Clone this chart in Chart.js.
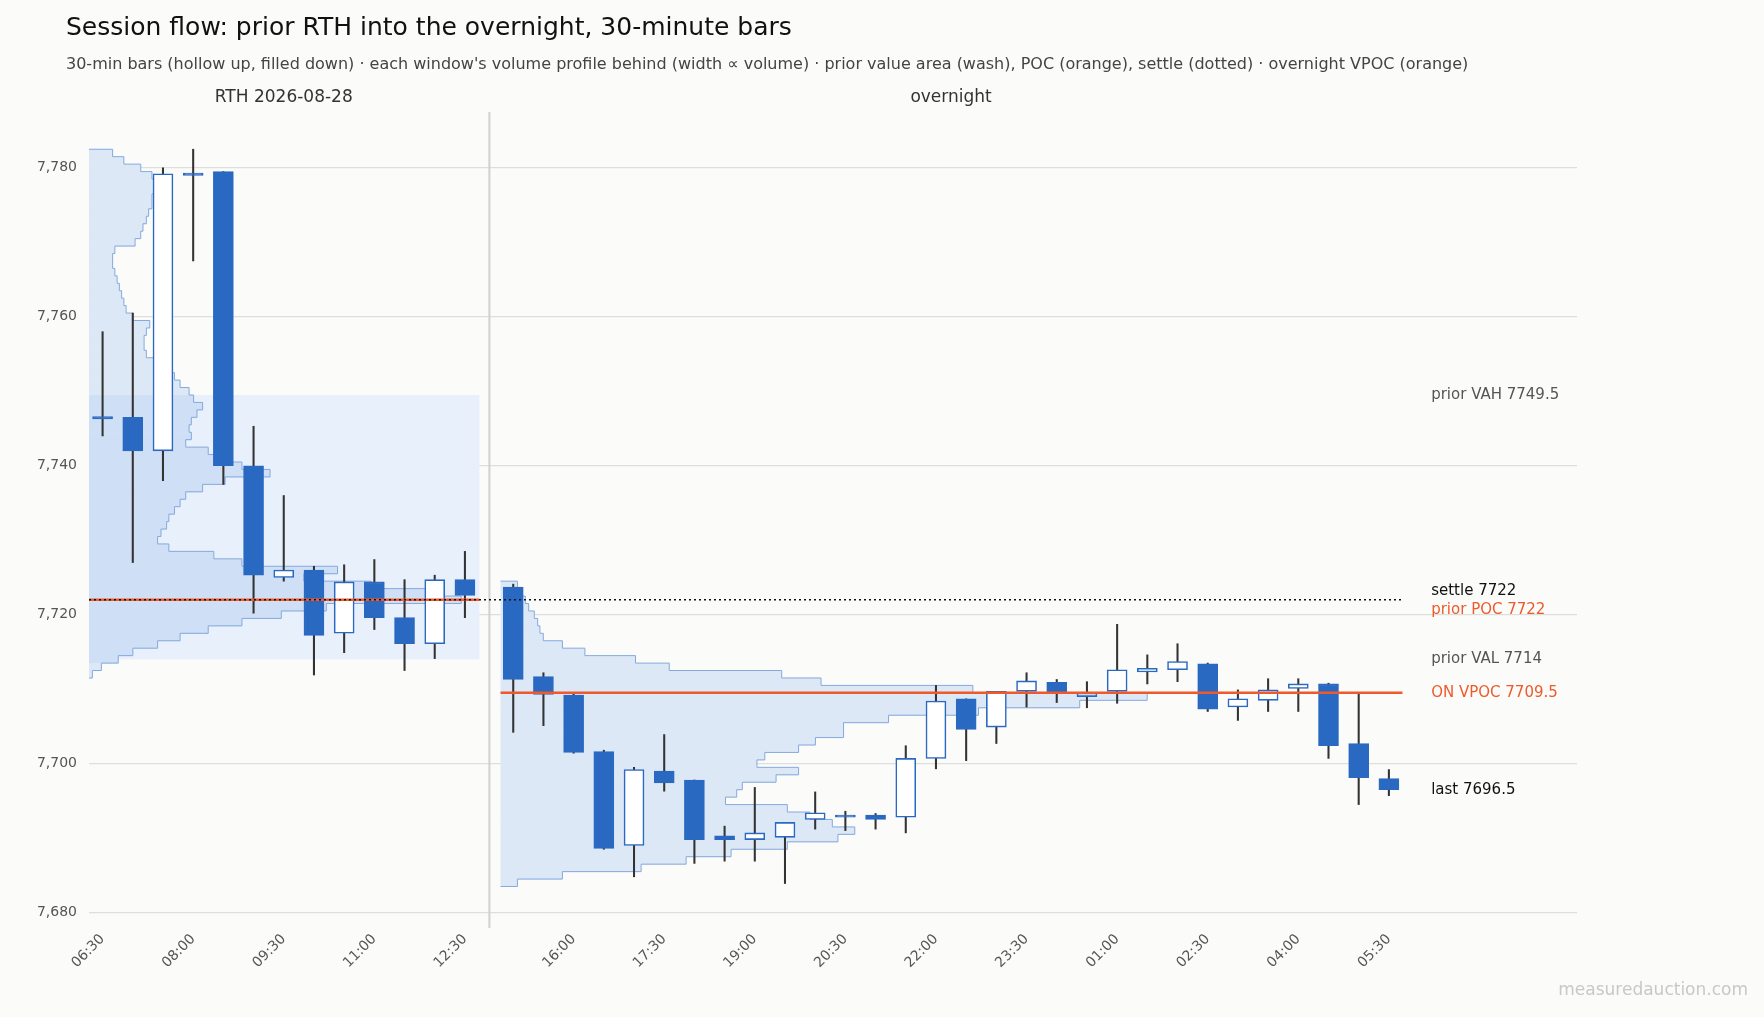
<!DOCTYPE html>
<html>
<head>
<meta charset="utf-8">
<script src="https://cdn.jsdelivr.net/npm/chart.js@4.4.1/dist/chart.umd.min.js"></script>
<style>
  html, body { margin: 0; padding: 0; background: #fbfbfa; }
  #wrap { width: 1764px; height: 1017px; }
</style>
</head>
<body>
<div id="wrap"><canvas id="flow"></canvas></div>
<script>
// prior RTH session, 30-min bars
const rthTimes = ['06:30','07:00','07:30','08:00','08:30','09:00','09:30','10:00','10:30','11:00','11:30','12:00','12:30'];
const rthOpen  = [7746.6, 7746.5, 7742.0, 7779.3, 7779.5, 7740.0, 7725.0, 7726.0, 7717.5, 7724.4, 7719.6, 7716.1, 7724.7];
const rthHigh  = [7758.0, 7760.5, 7780.0, 7782.5, 7779.5, 7745.3, 7736.0, 7726.5, 7726.7, 7727.4, 7724.7, 7725.3, 7728.5];
const rthLow   = [7744.0, 7727.0, 7738.0, 7767.5, 7737.5, 7720.2, 7724.5, 7711.9, 7714.9, 7718.0, 7712.5, 7714.1, 7719.6];
const rthClose = [7746.3, 7742.0, 7779.2, 7779.0, 7740.0, 7725.3, 7726.0, 7717.2, 7724.4, 7719.6, 7716.1, 7724.7, 7722.6];

// overnight session, 30-min bars
const onTimes = ['15:00','15:30','16:00','16:30','17:00','17:30','18:00','18:30','19:00','19:30',
                 '20:00','20:30','21:00','21:30','22:00','22:30','23:00','23:30','00:00','00:30',
                 '01:00','01:30','02:00','02:30','03:00','03:30','04:00','04:30','05:00','05:30'];
const onOpen  = [7723.7, 7711.7, 7709.2, 7701.6, 7689.0, 7699.0, 7697.8, 7690.3, 7689.8, 7690.1,
                 7692.5, 7693.1, 7693.1, 7692.8, 7700.7, 7708.7, 7704.9, 7709.7, 7710.9, 7709.0,
                 7709.7, 7712.3, 7712.6, 7713.4, 7707.6, 7708.5, 7710.1, 7710.7, 7702.7, 7698.0];
const onHigh  = [7724.1, 7712.2, 7709.4, 7701.8, 7699.5, 7703.9, 7697.8, 7691.6, 7696.8, 7692.1,
                 7696.2, 7693.6, 7693.3, 7702.4, 7710.5, 7708.7, 7709.7, 7712.2, 7711.3, 7711.0,
                 7718.7, 7714.6, 7716.1, 7713.5, 7709.9, 7711.4, 7711.4, 7710.8, 7709.5, 7699.2];
const onLow   = [7704.2, 7705.1, 7701.4, 7688.5, 7684.8, 7696.3, 7686.6, 7686.9, 7686.9, 7683.9,
                 7691.2, 7691.0, 7691.2, 7690.7, 7699.3, 7700.4, 7702.7, 7707.6, 7708.2, 7707.5,
                 7708.1, 7710.7, 7711.0, 7707.0, 7705.8, 7707.0, 7707.0, 7700.7, 7694.5, 7695.7];
const onClose = [7711.3, 7709.3, 7701.5, 7688.6, 7699.2, 7697.4, 7689.8, 7689.8, 7690.7, 7692.1,
                 7693.4, 7692.8, 7692.5, 7700.7, 7708.4, 7704.6, 7709.7, 7711.1, 7709.5, 7709.5,
                 7712.6, 7712.8, 7713.7, 7707.3, 7708.7, 7709.9, 7710.7, 7702.4, 7698.1, 7696.5];

// volume profiles, one value per 1-point price level, listed from the top level down
const rthProfileTop = 7782;
const rthProfileVol = [21,31,46,56,61,58,56,56,53,51,48,46,41,23,21,21,23,25,27,29,31,33,39,54,51,49,49,51,61,71,
                       76,81,89,93,101,96,91,89,91,86,106,121,136,161,121,101,86,81,76,71,69,64,61,71,111,136,221,191,251,301,
                       331,211,171,136,106,81,61,39,26,11,3];
const onProfileTop = 7724;
const onProfileVol = [15,18,22,25,30,33,35,38,55,75,120,150,250,285,420,575,515,425,345,305,
                      305,280,265,235,228,265,245,215,210,200,255,275,295,315,300,255,205,165,125,55,15];

// reference levels
const priorVAH = 7749.5, priorVAL = 7714, priorPOC = 7722, settle = 7722, onVPOC = 7709.5, lastPx = 7696.5;
const yTicks = [7680, 7700, 7720, 7740, 7760, 7780];

// layout in slot units on the x axis
const ON_OFFSET = 13.6;
const VOL_TO_SLOTS = 1 / 26.85;
const BLUE = '#2a69c2';
const ORANGE = '#ee5a2b';

const bodies = [], wicks = [], tickVals = [], tickLabels = {};
rthTimes.forEach((t, i) => {
    bodies.push({ x: i, y: [rthOpen[i], rthClose[i]], up: rthClose[i] >= rthOpen[i] });
    wicks.push({ x: i, y: [rthLow[i], rthHigh[i]] });
    if (i % 3 === 0) { tickVals.push(i); tickLabels[i] = t; }
});
onTimes.forEach((t, i) => {
    const x = ON_OFFSET + i;
    bodies.push({ x: x, y: [onOpen[i], onClose[i]], up: onClose[i] >= onOpen[i] });
    wicks.push({ x: x, y: [onLow[i], onHigh[i]] });
    if (i % 3 === 2) { tickVals.push(x); tickLabels[x] = t; }
});

function drawProfile(ctx, xs, ys, x0, top, vols, fillFn) {
    // filled bars
    vols.forEach((v, k) => {
        const p = top - k;
        const px0 = xs.getPixelForValue(x0), px1 = xs.getPixelForValue(x0 + v * VOL_TO_SLOTS);
        const py0 = ys.getPixelForValue(p + 0.5), py1 = ys.getPixelForValue(p - 0.5);
        ctx.fillStyle = fillFn(p);
        ctx.fillRect(px0, py0, px1 - px0, py1 - py0 + 0.5);
    });
    // step outline
    ctx.beginPath();
    ctx.moveTo(xs.getPixelForValue(x0), ys.getPixelForValue(top + 0.5));
    vols.forEach((v, k) => {
        const p = top - k;
        const px = xs.getPixelForValue(x0 + v * VOL_TO_SLOTS);
        ctx.lineTo(px, ys.getPixelForValue(p + 0.5));
        ctx.lineTo(px, ys.getPixelForValue(p - 0.5));
    });
    ctx.lineTo(xs.getPixelForValue(x0), ys.getPixelForValue(top - vols.length + 0.5));
    ctx.strokeStyle = '#86a9de';
    ctx.lineWidth = 1;
    ctx.stroke();
}

const sessionPlugin = {
    id: 'session',
    beforeDraw(chart) {
        const ctx = chart.ctx;
        ctx.save();
        ctx.fillStyle = '#fbfbfa';
        ctx.fillRect(0, 0, chart.width, chart.height);
        ctx.restore();
    },
    beforeDatasetsDraw(chart) {
        const ctx = chart.ctx, xs = chart.scales.x, ys = chart.scales.y, a = chart.chartArea;
        ctx.save();
        // prior value area wash
        const vx0 = xs.getPixelForValue(-0.45), vx1 = xs.getPixelForValue(12.48);
        ctx.fillStyle = '#e8f0fb';
        ctx.fillRect(vx0, ys.getPixelForValue(priorVAH), vx1 - vx0, ys.getPixelForValue(priorVAL) - ys.getPixelForValue(priorVAH));
        drawProfile(ctx, xs, ys, -0.45, rthProfileTop, rthProfileVol,
            p => (p <= priorVAH && p >= priorVAL) ? '#cfdff5' : '#dde8f6');
        drawProfile(ctx, xs, ys, 13.18, onProfileTop, onProfileVol, () => '#dce8f6');
        // session separator
        const sx = xs.getPixelForValue(12.81);
        ctx.strokeStyle = '#d0d0d0';
        ctx.lineWidth = 2;
        ctx.beginPath();
        ctx.moveTo(sx, a.top);
        ctx.lineTo(sx, a.bottom + 8);
        ctx.stroke();
        ctx.restore();
    },
    afterDatasetsDraw(chart) {
        const ctx = chart.ctx, xs = chart.scales.x, ys = chart.scales.y;
        ctx.save();
        const endX = xs.getPixelForValue(43.05);
        // prior POC
        ctx.strokeStyle = ORANGE;
        ctx.lineWidth = 2.5;
        ctx.beginPath();
        ctx.moveTo(xs.getPixelForValue(-0.45), ys.getPixelForValue(priorPOC));
        ctx.lineTo(xs.getPixelForValue(12.48), ys.getPixelForValue(priorPOC));
        ctx.stroke();
        // overnight VPOC
        ctx.beginPath();
        ctx.moveTo(xs.getPixelForValue(13.18), ys.getPixelForValue(onVPOC));
        ctx.lineTo(endX, ys.getPixelForValue(onVPOC));
        ctx.stroke();
        // settle
        ctx.strokeStyle = '#111';
        ctx.lineWidth = 1.5;
        ctx.setLineDash([2, 3]);
        ctx.beginPath();
        ctx.moveTo(xs.getPixelForValue(-0.45), ys.getPixelForValue(settle));
        ctx.lineTo(endX, ys.getPixelForValue(settle));
        ctx.stroke();
        ctx.setLineDash([]);
        // level labels
        const lx = xs.getPixelForValue(44.0);
        ctx.font = '15px "DejaVu Sans"';
        ctx.textBaseline = 'middle';
        ctx.textAlign = 'left';
        const labels = [
            ['prior VAH 7749.5', priorVAH, 0, '#555'],
            ['settle 7722', settle, -9, '#111'],
            ['prior POC 7722', priorPOC, 10, ORANGE],
            ['prior VAL 7714', priorVAL, 0, '#555'],
            ['ON VPOC 7709.5', onVPOC, 0, ORANGE],
            ['last 7696.5', lastPx, 0, '#111']
        ];
        labels.forEach(l => {
            ctx.fillStyle = l[3];
            ctx.fillText(l[0], lx, ys.getPixelForValue(l[1]) + l[2]);
        });
        ctx.restore();
    },
    afterDraw(chart) {
        const ctx = chart.ctx, xs = chart.scales.x;
        ctx.save();
        ctx.textBaseline = 'middle';
        ctx.textAlign = 'left';
        ctx.fillStyle = '#111';
        ctx.font = '25px "DejaVu Sans"';
        ctx.fillText('Session flow: prior RTH into the overnight, 30-minute bars', 66, 28);
        ctx.fillStyle = '#444';
        ctx.font = '16px "DejaVu Sans"';
        ctx.fillText("30-min bars (hollow up, filled down) \u00b7 each window's volume profile behind (width \u221d volume) \u00b7 prior value area (wash), POC (orange), settle (dotted) \u00b7 overnight VPOC (orange)", 66, 65);
        ctx.textAlign = 'center';
        ctx.font = '17px "DejaVu Sans"';
        ctx.fillStyle = '#333';
        ctx.fillText('RTH 2026-08-28', xs.getPixelForValue(6), 98);
        ctx.fillText('overnight', xs.getPixelForValue(ON_OFFSET + 14.5), 98);
        ctx.textAlign = 'right';
        ctx.fillStyle = '#c8c8c8';
        ctx.font = '17px "DejaVu Sans"';
        ctx.fillText('measuredauction.com', 1748, 991);
        ctx.restore();
    }
};

new Chart(document.getElementById('flow'), {
    type: 'bar',
    data: {
        datasets: [
            {
                data: bodies,
                order: 1,
                grouped: false,
                barThickness: 20,
                borderWidth: 1.6,
                borderSkipped: false,
                borderColor: BLUE,
                backgroundColor: c => (c.raw && c.raw.up) ? '#ffffff' : BLUE
            },
            {
                data: wicks,
                order: 2,
                grouped: false,
                barThickness: 1.4,
                borderWidth: 0,
                backgroundColor: '#333333'
            }
        ]
    },
    options: {
        responsive: true,
        maintainAspectRatio: false,
        animation: false,
        layout: { padding: { top: 112, right: 187, left: 0, bottom: 0 } },
        plugins: { legend: { display: false }, tooltip: { enabled: false }, title: { display: false } },
        scales: {
            x: {
                type: 'linear',
                min: -0.45,
                max: 48.83,
                offset: false,
                grid: { display: false },
                border: { display: false },
                afterBuildTicks: s => { s.ticks = tickVals.map(v => ({ value: v })); },
                afterFit: s => { s.height = 97; },
                ticks: {
                    color: '#555',
                    font: { size: 14, family: 'DejaVu Sans' },
                    maxRotation: 45,
                    minRotation: 45,
                    autoSkip: false,
                    callback: v => tickLabels[v] || ''
                }
            },
            y: {
                min: 7679,
                max: 7787.5,
                grid: { color: '#dedede', lineWidth: 1.2, drawTicks: false },
                border: { display: false },
                afterBuildTicks: s => { s.ticks = yTicks.map(v => ({ value: v })); },
                afterFit: s => { s.width = 89; },
                ticks: { color: '#555', padding: 12, font: { size: 14, family: 'DejaVu Sans' } }
            }
        }
    },
    plugins: [sessionPlugin]
});
</script>
</body>
</html>
